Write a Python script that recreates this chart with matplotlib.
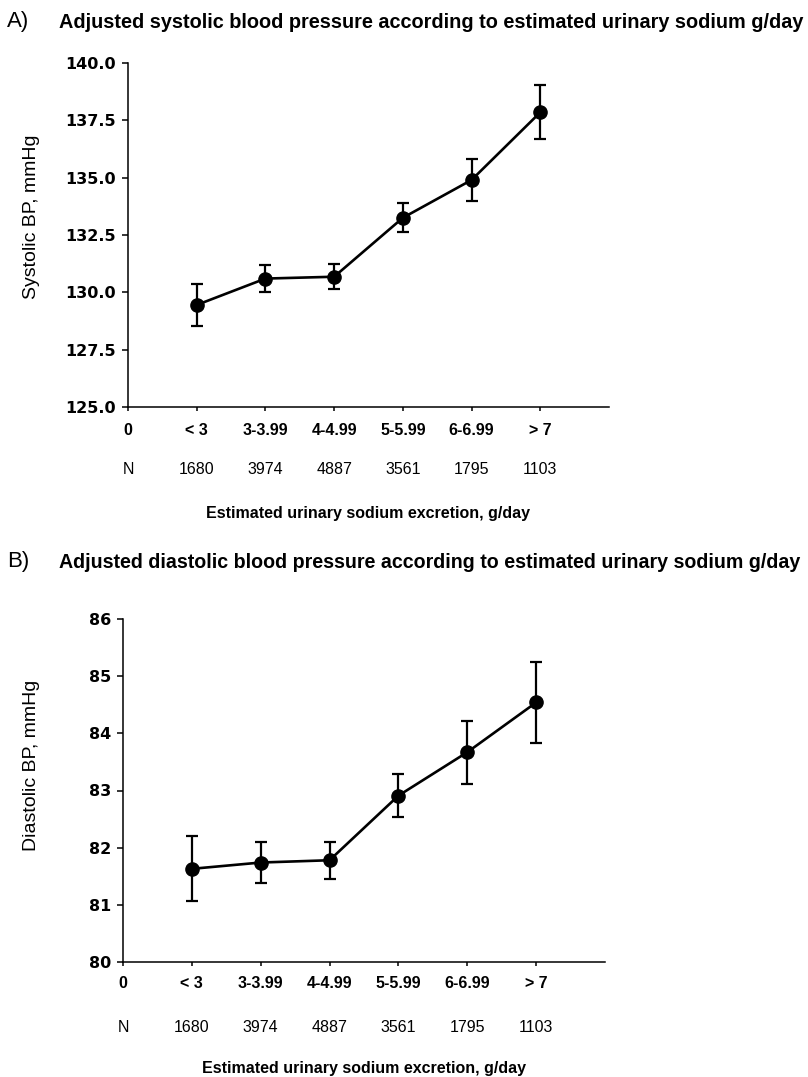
import matplotlib
matplotlib.use("Agg")
import matplotlib.pyplot as plt
from matplotlib.transforms import blended_transform_factory

# ---------------- data ----------------
categories = ["0", "< 3", "3-3.99", "4-4.99", "5-5.99", "6-6.99", "> 7"]
n_counts = ["1680", "3974", "4887", "3561", "1795", "1103"]

sbp_mean = [129.45, 130.60, 130.68, 133.25, 134.90, 137.85]
sbp_err = [0.92, 0.60, 0.55, 0.63, 0.90, 1.17]

dbp_mean = [81.63, 81.74, 81.78, 82.91, 83.67, 84.54]
dbp_err = [0.57, 0.36, 0.32, 0.38, 0.55, 0.71]

sbp_ticks = [125.0, 127.5, 130.0, 132.5, 135.0, 137.5, 140.0]
dbp_ticks = [80, 81, 82, 83, 84, 85, 86]

title_a = "Adjusted systolic blood pressure according to estimated urinary sodium g/day"
title_b = "Adjusted diastolic blood pressure according to estimated urinary sodium g/day"
xlabel = "Estimated urinary sodium excretion, g/day"
ylabel_a = "Systolic BP, mmHg"
ylabel_b = "Diastolic BP, mmHg"

# ---------------- figure ----------------
W, H = 808, 1077
fig = plt.figure(figsize=(W / 100, H / 100), dpi=100)
FAM = ["Liberation Sans", "DejaVu Sans"]


def px_box(left, top, right, bottom):
    return [left / W, 1 - bottom / H, (right - left) / W, (bottom - top) / H]


def panel(box, means, errs, yticks, fmt, ylabel, cat_y, n_y, xl_y, ylab_pos):
    ax = fig.add_axes(px_box(*box))
    xs = list(range(1, len(means) + 1))
    ax.errorbar(xs, means, yerr=errs, color="black", lw=1.9, marker="o",
                markersize=9.5, capsize=4, capthick=1.6, elinewidth=1.6)
    ax.set_xlim(0, 7)
    ax.set_ylim(yticks[0], yticks[-1])
    ax.set_yticks(yticks)
    ax.set_yticklabels([fmt.format(v) for v in yticks],
                       fontfamily="DejaVu Sans", fontweight="bold", fontsize=11.5)
    ax.set_xticks(range(0, 7))
    ax.set_xticklabels([])
    for s in ("top", "right"):
        ax.spines[s].set_visible(False)
    for s in ("left", "bottom"):
        ax.spines[s].set_linewidth(1.1)
    ax.tick_params(axis="y", direction="out", length=4.5, width=1.1, pad=4)
    ax.tick_params(axis="x", direction="out", length=3, width=1.1)
    trans = blended_transform_factory(ax.transData, ax.transAxes)
    for i, lab in enumerate(categories):
        ax.text(i, cat_y, lab, transform=trans, ha="center", va="center",
                fontfamily=FAM, fontweight="bold", fontsize=11.5)
    ax.text(0, n_y, "N", transform=trans, ha="center", va="center",
            fontfamily=FAM, fontsize=11.5)
    for i, lab in enumerate(n_counts):
        ax.text(i + 1, n_y, lab, transform=trans, ha="center", va="center",
                fontfamily=FAM, fontsize=11.5)
    ax.text(0.5, xl_y, xlabel, transform=ax.transAxes, ha="center", va="center",
            fontfamily=FAM, fontweight="bold", fontsize=11.5)
    fig.text(ylab_pos[0] / W, 1 - ylab_pos[1] / H, ylabel, rotation=90,
             ha="center", va="center", fontfamily=FAM, fontsize=14)
    return ax


# Panel A
fig.text(7 / W, 1 - 22 / H, "A)", ha="left", va="center", fontfamily=FAM, fontsize=16)
fig.text(59 / W, 1 - 23 / H, title_a, ha="left", va="center", fontfamily=FAM,
         fontweight="bold", fontsize=14.3)
panel((128, 63, 609, 407), sbp_mean, sbp_err, sbp_ticks, "{:.1f}", ylabel_a,
      (407 - 431) / 344, (407 - 470) / 344, (407 - 514) / 344, (32, 217))

# Panel B
fig.text(7 / W, 1 - 561 / H, "B)", ha="left", va="center", fontfamily=FAM, fontsize=16)
fig.text(59 / W, 1 - 563 / H, title_b, ha="left", va="center", fontfamily=FAM,
         fontweight="bold", fontsize=14.1)
panel((123, 619, 605, 962), dbp_mean, dbp_err, dbp_ticks, "{:d}", ylabel_b,
      (962 - 983) / 343, (962 - 1027) / 343, (962 - 1068) / 343, (32, 765))

fig.savefig("out.png", dpi=100)
